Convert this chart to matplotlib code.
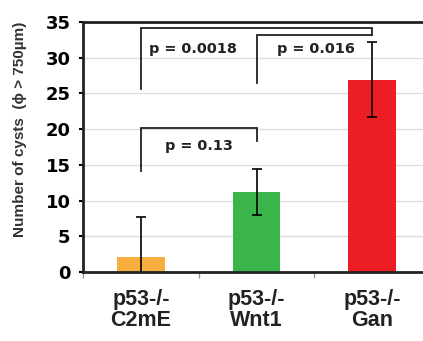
import matplotlib
matplotlib.use("Agg")
from matplotlib import pyplot as plt
import numpy as np

plt.rcParams['font.family'] = ['Liberation Sans', 'DejaVu Sans']
plt.rcParams['font.weight'] = 'bold'

groups = ['p53-/-\nC2mE', 'p53-/-\nWnt1', 'p53-/-\nGan']
cysts = [2.1, 11.2, 26.9]
err = [5.6, 3.2, 5.25]
colors = ['#F8AE3F', '#3AB54A', '#EC1D25']

# significance brackets: (left group, right group, left leg bottom, top, right leg bottom, label, text x, text y)
brackets = [
    (0, 1, 14.1, 20.1, 18.4, 'p = 0.13', 0.5, 17.6),
    (0, 2, 25.6, 34.1, 33.2, 'p = 0.0018', 0.45, 31.2),
    (1, 2, 26.4, 33.2, 33.2, 'p = 0.016', 1.51, 31.2),
]

wide = ['DejaVu Sans']

fig = plt.figure(figsize=(4.23, 3.41), dpi=100)
ax = fig.add_axes([83/423, 69/341, 347/423, 250/341])

x = np.arange(len(groups))
ax.bar(x, cysts, width=0.41, color=colors, zorder=2)
ax.errorbar(x, cysts, yerr=err, fmt='none', ecolor='black', elinewidth=1.2,
            capsize=3.5, capthick=1.2, zorder=3)

for a, b, y0, ytop, y1, label, tx, ty in brackets:
    ax.plot([a, a, b, b], [y0, ytop, ytop, y1], color='#222222', lw=1.3,
            solid_joinstyle='miter', zorder=3)
    ax.text(tx, ty, label, ha='center', va='center', fontsize=10.4,
            fontweight='bold', color='#222222', family=wide)

ax.set_xlim(-0.5, 2.5)
ax.set_ylim(0, 35)
ax.set_yticks(range(0, 36, 5))
ax.yaxis.grid(True, color='#dddddd', lw=1, zorder=0)
ax.set_axisbelow(True)
ax.set_xticks(x)
ax.set_xticklabels(groups, fontsize=15.5, fontweight='bold', color='#222222',
                   linespacing=1.05)
ax.set_xticks([-0.5, 0.5, 1.5, 2.5], minor=True)
ax.tick_params(axis='x', which='major', length=0, pad=12)
ax.tick_params(axis='x', which='minor', length=4, color='#999999', width=1)
ax.tick_params(axis='y', length=3, width=1.5, labelsize=13, pad=6,
               labelcolor='black')
for t in ax.get_yticklabels():
    t.set_fontweight('bold')
    t.set_family(wide)

for s in ['left', 'bottom', 'top']:
    ax.spines[s].set_linewidth(2)
    ax.spines[s].set_color('#222222')
ax.spines['right'].set_visible(False)

ax.set_ylabel('Number of cysts  (\u03d5 > 750\u00b5m)', fontsize=11,
              fontweight='bold', color='#333333')
ax.yaxis.set_label_coords(-0.16, 0.572)

fig.savefig('out.png', dpi=100)
